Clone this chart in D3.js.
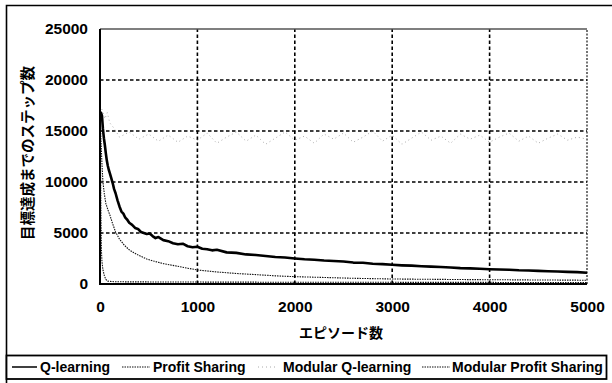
<!DOCTYPE html>
<html><head><meta charset="utf-8">
<script src="https://cdn.jsdelivr.net/npm/d3@7"></script>
<style>body{margin:0;background:#fff}svg{display:block}</style>
</head><body>
<svg id="c" width="612" height="383"></svg>
<script>
const xTicks = [0,1000,2000,3000,4000,5000];
const yTicks = [0,5000,10000,15000,20000,25000];
const xTitle = "エピソード数";
const yTitle = "目標達成までのステップ数";
const seriesNames = ["Q-learning","Profit Sharing","Modular Q-learning","Modular Profit Sharing"];

const qEp = [0,10,20,30,40,50,60,70,80,90,100,115,130,145,160,180,200,220,240,260,280,300,330,360,390,420,450,480,510,540,570,600,650,700,750,800,850,900,950,1000,1050,1100,1150,1200,1300,1400,1500,1600,1700,1800,1900,2000,2100,2200,2300,2400,2500,2600,2700,2800,2900,3000,3100,3200,3300,3400,3500,3600,3700,3800,3900,4000,4100,4200,4300,4400,4500,4600,4700,4800,4900,5000];
const qVal = [16700,16800,16500,15200,14300,13600,12800,12100,11600,11200,10900,10400,9900,9300,8900,8200,7600,7100,6900,6500,6300,6000,5800,5500,5400,5100,5000,4900,4950,4700,4500,4600,4300,4200,4000,3900,3950,3700,3600,3650,3450,3400,3300,3350,3100,3050,2900,2850,2750,2650,2600,2500,2420,2380,2300,2250,2200,2100,2080,1980,1950,1880,1830,1800,1740,1700,1660,1620,1560,1530,1490,1450,1420,1400,1350,1330,1290,1250,1230,1190,1160,1100];

const psEp = [0,5,10,20,30,45,60,80,100,130,160,200,250,300,350,400,480,550,650,790,900,1000,1200,1400,1600,1800,2000,2300,2600,3000,3400,3800,4200,4600,5000];
const psVal = [17000,15500,14000,11800,10000,8800,7900,7300,6800,5900,5100,4400,3800,3350,3050,2800,2450,2250,2000,1750,1550,1380,1180,1030,920,800,720,640,560,490,460,430,410,390,370];

const mqEp = [0,25,50,75,100,150,200,300,400,500,600,700,800,900,1000,1100,1200,1300,1400,1500,1600,1700,1800,1900,2000,2100,2200,2300,2400,2500,2600,2700,2800,2900,3000,3100,3200,3300,3400,3500,3600,3700,3800,3900,4000,4100,4200,4300,4400,4500,4600,4700,4800,4900,5000];
const mqVal = [17500,17000,16200,16800,15800,15200,14400,14900,14200,14700,14000,14600,13900,14500,14100,14800,13800,14400,14900,14000,14600,13700,14300,14900,14100,14500,13800,14700,14200,14800,13900,14400,15000,14000,14600,13700,14300,14900,14100,14500,13800,14700,14200,14600,13900,14400,14800,14000,14500,13800,14300,14700,14100,14400,14200];

const mpsEp = [0,3,6,10,15,20,30,45,60,80,150,300,600,1000,1500,2000,2500,3000,3500,4000,4500,5000];
const mpsVal = [21000,16000,11000,6500,3200,2200,1400,800,450,280,220,210,200,190,180,175,170,165,160,155,150,150];

const svg = d3.select("#c");
const x = d3.scaleLinear().domain([0,5000]).range([100,587]);
const y = d3.scaleLinear().domain([0,25000]).range([284,29]);
const font = "'Liberation Sans', Arial, sans-serif";
const cjk = "'Noto Sans CJK JP', sans-serif";

// outer frame
svg.append("path").attr("d","M6.5,383 V5.5 H612").attr("fill","none").attr("stroke","#000").attr("stroke-width",1.6);

// grid
const g = svg.append("g");
g.selectAll(".hg").data(yTicks.filter(v=>v>0&&v<25000)).join("line")
  .attr("x1",x(0)).attr("x2",x(5000)).attr("y1",d=>y(d)).attr("y2",d=>y(d))
  .attr("stroke","#000").attr("stroke-width",1.6).attr("stroke-dasharray","3.5,2.5");
g.selectAll(".vg").data(xTicks.filter(v=>v>0)).join("line")
  .attr("x1",d=>x(d)).attr("x2",d=>x(d)).attr("y1",y(0)).attr("y2",y(25000))
  .attr("stroke","#000").attr("stroke-width",d=>d===5000?1.1:1.6).attr("stroke-dasharray",d=>d===5000?"2,1.5":"3.5,2.5");
g.append("line").attr("x1",x(0)).attr("x2",x(5000)).attr("y1",y(25000)).attr("y2",y(25000))
  .attr("stroke","#555").attr("stroke-width",1.3);

// series
const line = d3.line().x(d=>x(d[0])).y(d=>y(d[1]));
const zip = (a,b)=>a.map((v,i)=>[v,b[i]]);
svg.append("path").datum(zip(mqEp,mqVal)).attr("d",line).attr("fill","none")
  .attr("stroke","#aaa").attr("stroke-width",1).attr("stroke-dasharray","1,3");
svg.append("path").datum(zip(psEp,psVal)).attr("d",line).attr("fill","none")
  .attr("stroke","#111").attr("stroke-width",1.1).attr("stroke-dasharray","1.5,1");
svg.append("path").datum(zip(mpsEp,mpsVal)).attr("d",line).attr("fill","none")
  .attr("stroke","#111").attr("stroke-width",1.1).attr("stroke-dasharray","1.5,1");
svg.append("path").datum(zip(qEp,qVal)).attr("d",line).attr("fill","none")
  .attr("stroke","#000").attr("stroke-width",2.6).attr("stroke-linejoin","round");

// axes lines
svg.append("line").attr("x1",x(0)).attr("x2",x(0)).attr("y1",y(25000)).attr("y2",y(0)+1).attr("stroke","#000").attr("stroke-width",2);
svg.append("line").attr("x1",x(0)-1).attr("x2",x(5000)).attr("y1",y(0)).attr("y2",y(0)).attr("stroke","#000").attr("stroke-width",2);

// axis labels via d3 axes
const yAx = svg.append("g").attr("transform",`translate(${x(0)},0)`)
  .call(d3.axisLeft(y).tickValues(yTicks).tickSize(0).tickPadding(12).tickFormat(d3.format("d")));
const xAx = svg.append("g").attr("transform",`translate(0,${y(0)})`)
  .call(d3.axisBottom(x).tickValues(xTicks).tickSize(0).tickPadding(17).tickFormat(d3.format("d")));
[yAx,xAx].forEach(a=>{a.select(".domain").remove();
  a.selectAll("text").attr("font-family",font).attr("font-size",15.5).attr("font-weight","bold").attr("fill","#000");});

// titles
svg.append("text").attr("x",341).attr("y",338).attr("text-anchor","middle")
  .attr("font-family",cjk).attr("font-size",14).attr("font-weight","bold").text(xTitle);
svg.append("text").attr("transform","translate(33,153) rotate(-90)").attr("text-anchor","middle")
  .attr("font-family",cjk).attr("font-size",14.5).attr("font-weight","bold").text(yTitle);

// legend
svg.append("rect").attr("x",6.5).attr("y",355.5).attr("width",600).attr("height",23.5)
  .attr("fill","#fff").attr("stroke","#000").attr("stroke-width",1.8);
const legX = [12,122,258,422];
const legTX = [40,153,283,452];
const legStyle = [
  {c:"#000",w:1.5,d:null},
  {c:"#111",w:1.1,d:"1.5,1"},
  {c:"#aaa",w:1,d:"1,3"},
  {c:"#111",w:1.1,d:"1.5,1"}];
const legLen = [25,28,18,28];
seriesNames.forEach((n,i)=>{
  const s = legStyle[i];
  const l = svg.append("line").attr("x1",legX[i]).attr("x2",legX[i]+legLen[i]).attr("y1",367).attr("y2",367)
    .attr("stroke",s.c).attr("stroke-width",s.w);
  if(s.d) l.attr("stroke-dasharray",s.d);
  svg.append("text").attr("x",legTX[i]).attr("y",372).attr("font-family",font).attr("font-size",14)
    .attr("font-weight","bold").text(n);
});
</script>
</body></html>
